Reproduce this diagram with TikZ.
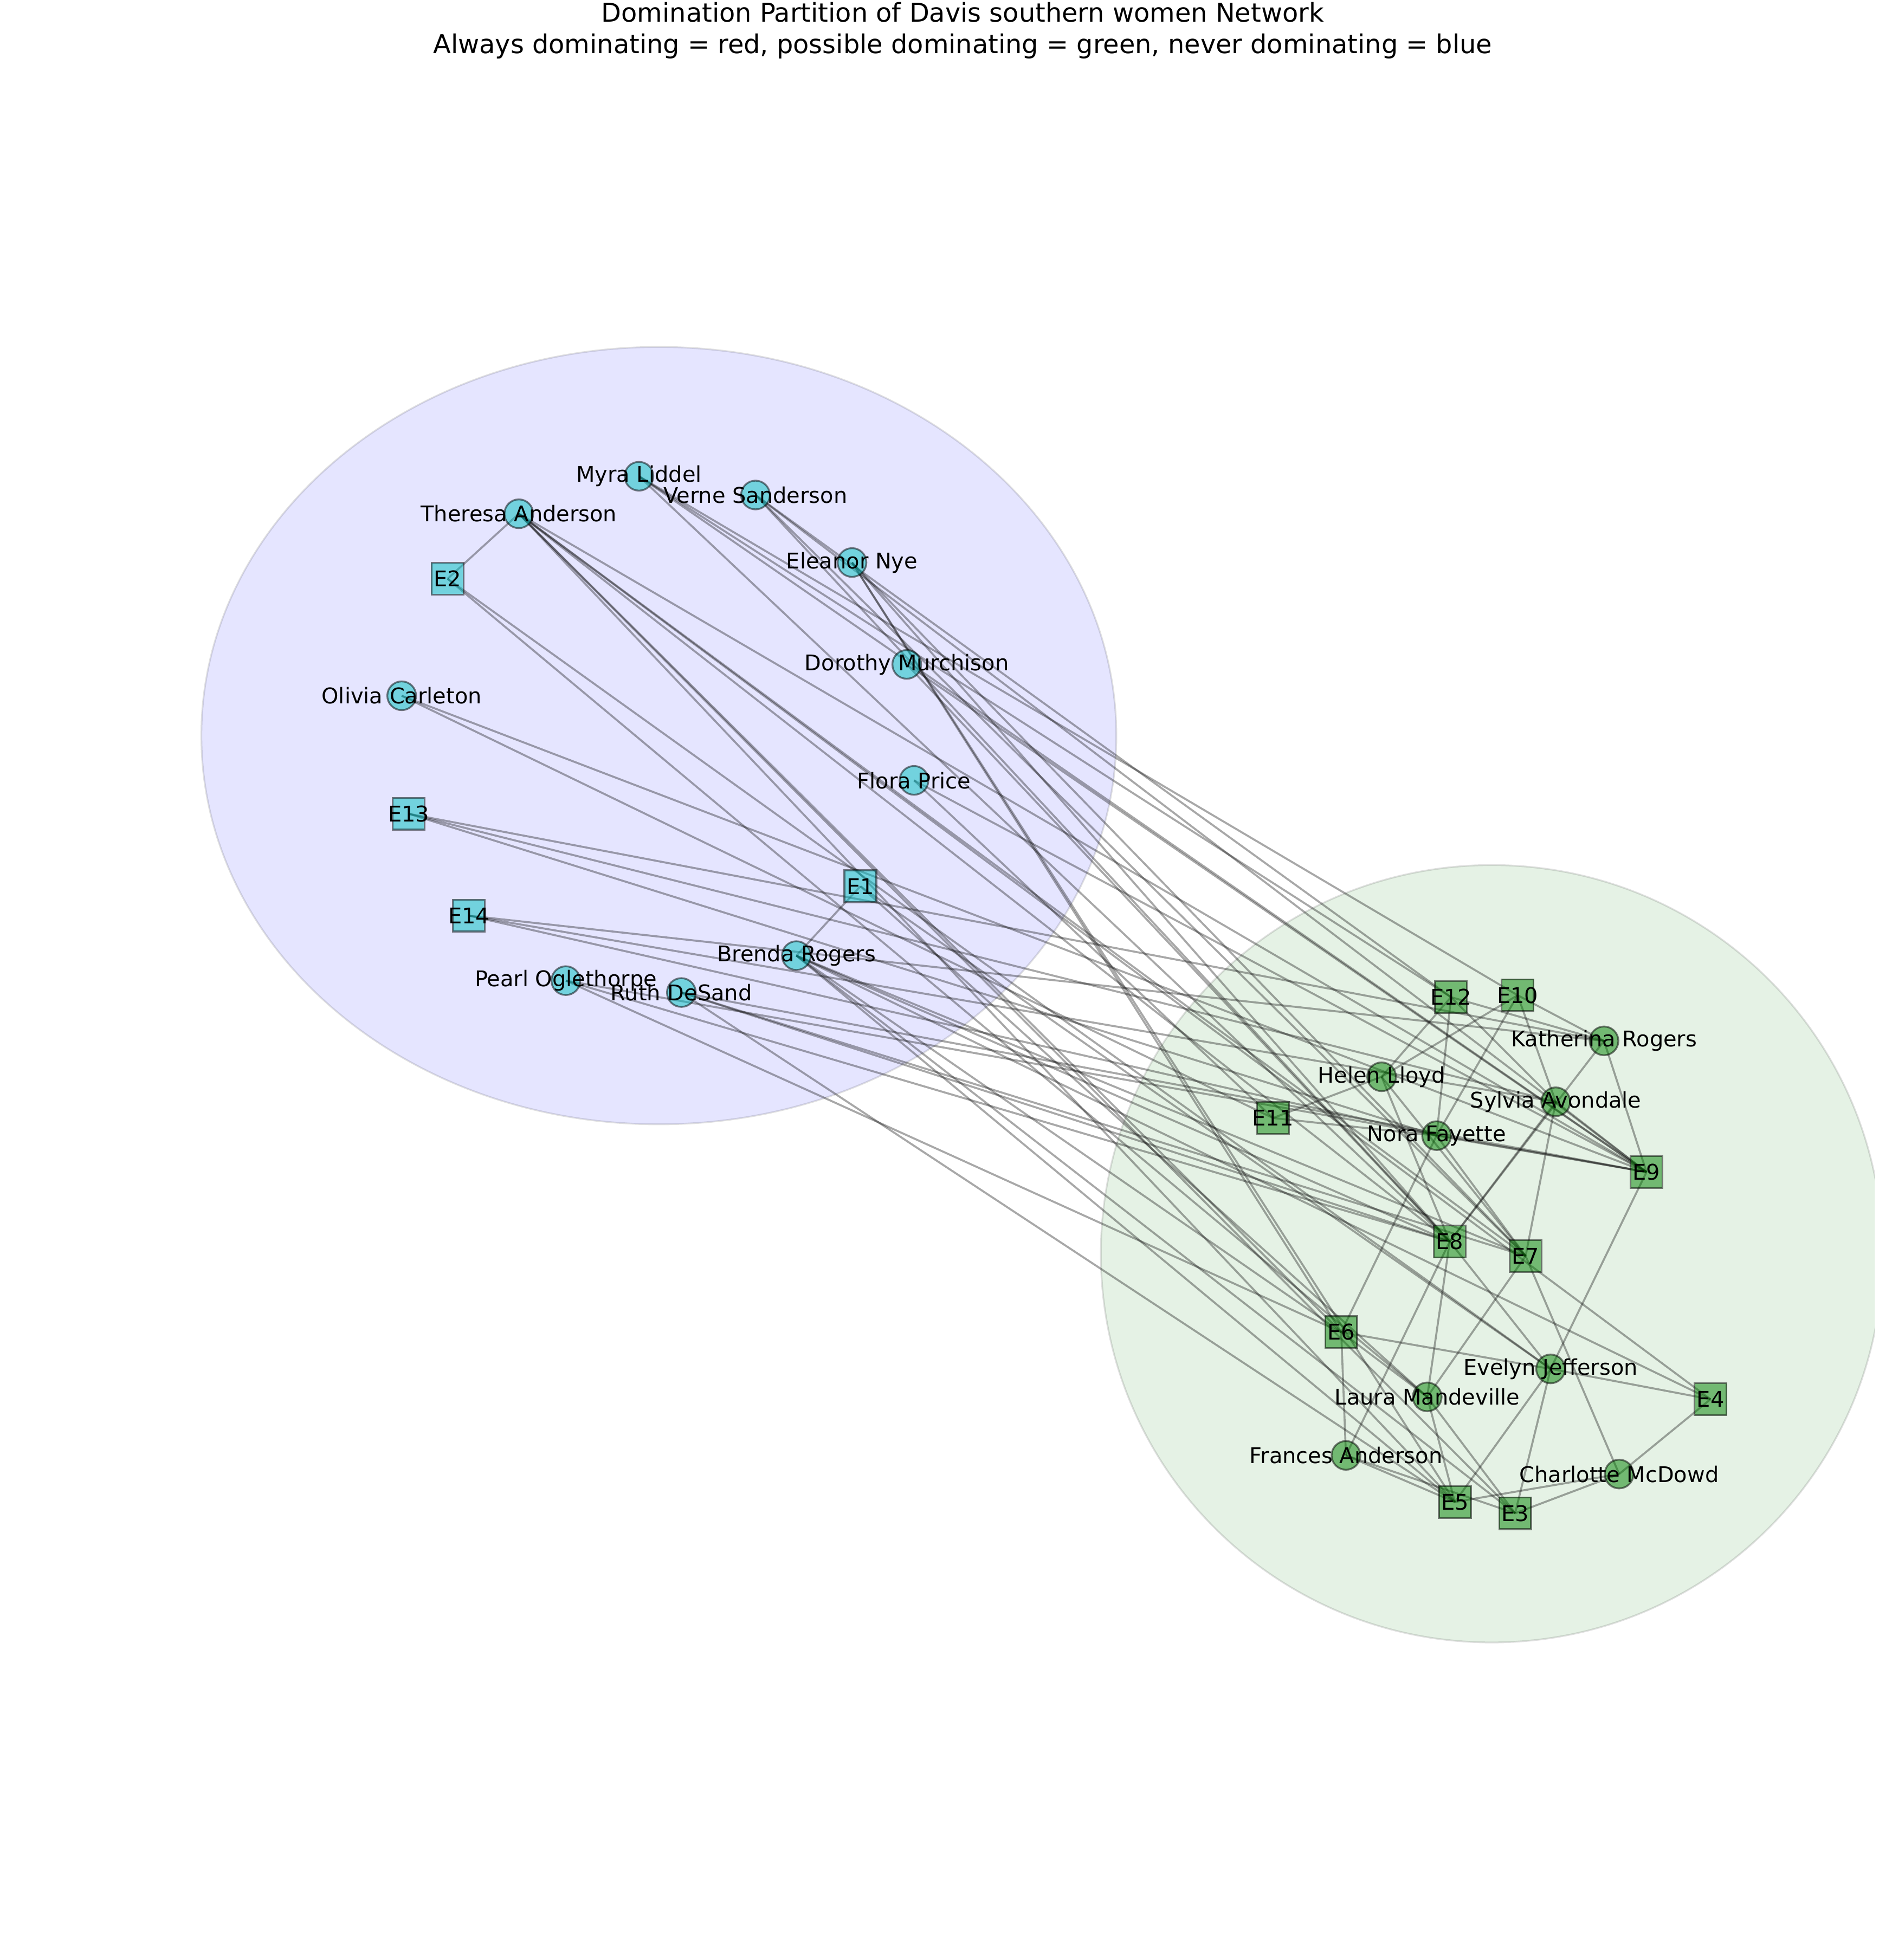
\documentclass[tikz,border=0pt]{standalone}
\usepackage{fontspec}
\setmainfont{DejaVu Sans}
\usetikzlibrary{backgrounds}
\definecolor{mc}{RGB}{0,191,191}
\definecolor{mg}{RGB}{0,128,0}
\begin{document}
\begin{tikzpicture}[x=0.02cm,y=-0.02cm,
  wn/.style={circle, minimum size=0.46cm, inner sep=0pt, draw=black, draw opacity=0.5, fill opacity=0.5, line width=0.83pt},
  ev/.style={rectangle, minimum size=0.51cm, inner sep=0pt, draw=black, draw opacity=0.5, fill opacity=0.5, line width=0.83pt},
  bn/.style={fill=mc}, gn/.style={fill=mg},
  lab/.style={inner sep=0pt, font=\fontsize{9.85pt}{11pt}\selectfont, text=black},
  edge/.style={draw=black, draw opacity=0.34, line width=0.9pt},
  grp/.style={draw=black, draw opacity=0.12, line width=0.8pt},
  ttl/.style={inner sep=0pt, align=center, font=\fontsize{11.8pt}{14.2pt}\selectfont}]
\useasboundingbox (0,0) rectangle (1513,1568);
% blue group
\node[wn,bn] (ML) at (511.1,381) {};
\node[wn,bn] (VS) at (604.3,396) {};
\node[wn,bn] (TA) at (415,411) {};
\node[wn,bn] (EN) at (681.5,450) {};
\node[wn,bn] (DM) at (725.3,531.5) {};
\node[wn,bn] (OC) at (321.3,556.6) {};
\node[wn,bn] (FP) at (731.1,624.3) {};
\node[wn,bn] (BR) at (637,764.5) {};
\node[wn,bn] (PO) at (452.6,784.5) {};
\node[wn,bn] (RD) at (545,794) {};
\node[ev,bn] (E2) at (358,463) {};
\node[ev,bn] (E13) at (326.9,651) {};
\node[ev,bn] (E1) at (688.2,709) {};
\node[ev,bn] (E14) at (375,732.5) {};
% green group
\node[wn,gn] (KR) at (1283,832.7) {};
\node[wn,gn] (HL) at (1105.1,861.4) {};
\node[wn,gn] (SA) at (1244.4,881.4) {};
\node[wn,gn] (NF) at (1149.1,908.5) {};
\node[wn,gn] (EJ) at (1240.3,1095.1) {};
\node[wn,gn] (LM) at (1141.6,1117.5) {};
\node[wn,gn] (FA) at (1076.6,1164.3) {};
\node[wn,gn] (CM) at (1295.1,1179.2) {};
\node[ev,gn] (E12) at (1160.6,797.7) {};
\node[ev,gn] (E10) at (1213.9,796.2) {};
\node[ev,gn] (E11) at (1018.2,894.4) {};
\node[ev,gn] (E9) at (1317,937.6) {};
\node[ev,gn] (E8) at (1159.6,993.2) {};
\node[ev,gn] (E7) at (1220.3,1004.8) {};
\node[ev,gn] (E6) at (1072.8,1065.7) {};
\node[ev,gn] (E4) at (1368.2,1119.4) {};
\node[ev,gn] (E5) at (1163.7,1201.6) {};
\node[ev,gn] (E3) at (1211.9,1210.6) {};
\begin{scope}[on background layer]
  \fill[blue, fill opacity=0.1] (527,588.5) ellipse [x radius=7.32cm, y radius=6.22cm];
  \draw[grp] (527,588.5) ellipse [x radius=7.32cm, y radius=6.22cm];
  \begin{scope}
    \clip (0,0) rectangle (1499.6,1568);
    \fill[green!50!black, fill opacity=0.1] (1193.2,1003) ellipse [x radius=6.254cm, y radius=6.22cm];
    \draw[grp] (1193.2,1003) ellipse [x radius=6.254cm, y radius=6.22cm];
  \end{scope}
  \foreach \w/\evs in {EJ/{E1,E2,E3,E4,E5,E6,E8,E9}, LM/{E1,E2,E3,E5,E6,E7,E8}, TA/{E2,E3,E4,E5,E6,E7,E8,E9}, BR/{E1,E3,E4,E5,E6,E7,E8}, CM/{E3,E4,E5,E7}, FA/{E3,E5,E6,E8}, EN/{E5,E6,E7,E8}, PO/{E6,E8,E9}, RD/{E5,E7,E8,E9}, VS/{E7,E8,E9,E12}, ML/{E8,E9,E10,E12}, KR/{E8,E9,E10,E12,E13,E14}, SA/{E7,E8,E9,E10,E12,E13,E14}, NF/{E6,E7,E9,E10,E11,E12,E13,E14}, HL/{E7,E8,E10,E11,E12}, DM/{E8,E9}, OC/{E9,E11}, FP/{E9,E11}}
    \foreach \e in \evs
      \draw[edge] (\w.center) -- (\e.center);
\end{scope}
% labels
\node[lab] (ML-l) at (ML) {Myra Liddel};
\node[lab] (VS-l) at (VS) {Verne Sanderson};
\node[lab] (TA-l) at (TA) {Theresa Anderson};
\node[lab] (EN-l) at (EN) {Eleanor Nye};
\node[lab] (DM-l) at (DM) {Dorothy Murchison};
\node[lab] (OC-l) at (OC) {Olivia Carleton};
\node[lab] (FP-l) at (FP) {Flora Price};
\node[lab] (BR-l) at (BR) {Brenda Rogers};
\node[lab] (PO-l) at (PO) {Pearl Oglethorpe};
\node[lab] (RD-l) at (RD) {Ruth DeSand};
\node[lab] (E2-l) at (E2) {E2};
\node[lab] (E13-l) at (E13) {E13};
\node[lab] (E1-l) at (E1) {E1};
\node[lab] (E14-l) at (E14) {E14};
\node[lab] (KR-l) at (KR) {Katherina Rogers};
\node[lab] (HL-l) at (HL) {Helen Lloyd};
\node[lab] (SA-l) at (SA) {Sylvia Avondale};
\node[lab] (NF-l) at (NF) {Nora Fayette};
\node[lab] (EJ-l) at (EJ) {Evelyn Jefferson};
\node[lab] (LM-l) at (LM) {Laura Mandeville};
\node[lab] (FA-l) at (FA) {Frances Anderson};
\node[lab] (CM-l) at (CM) {Charlotte McDowd};
\node[lab] (E12-l) at (E12) {E12};
\node[lab] (E10-l) at (E10) {E10};
\node[lab] (E11-l) at (E11) {E11};
\node[lab] (E9-l) at (E9) {E9};
\node[lab] (E8-l) at (E8) {E8};
\node[lab] (E7-l) at (E7) {E7};
\node[lab] (E6-l) at (E6) {E6};
\node[lab] (E4-l) at (E4) {E4};
\node[lab] (E5-l) at (E5) {E5};
\node[lab] (E3-l) at (E3) {E3};
\node[ttl, anchor=north] (title) at (770,1.5) {Domination Partition of Davis southern women Network\\Always dominating = red, possible dominating = green, never dominating = blue};
\end{tikzpicture}
\end{document}
